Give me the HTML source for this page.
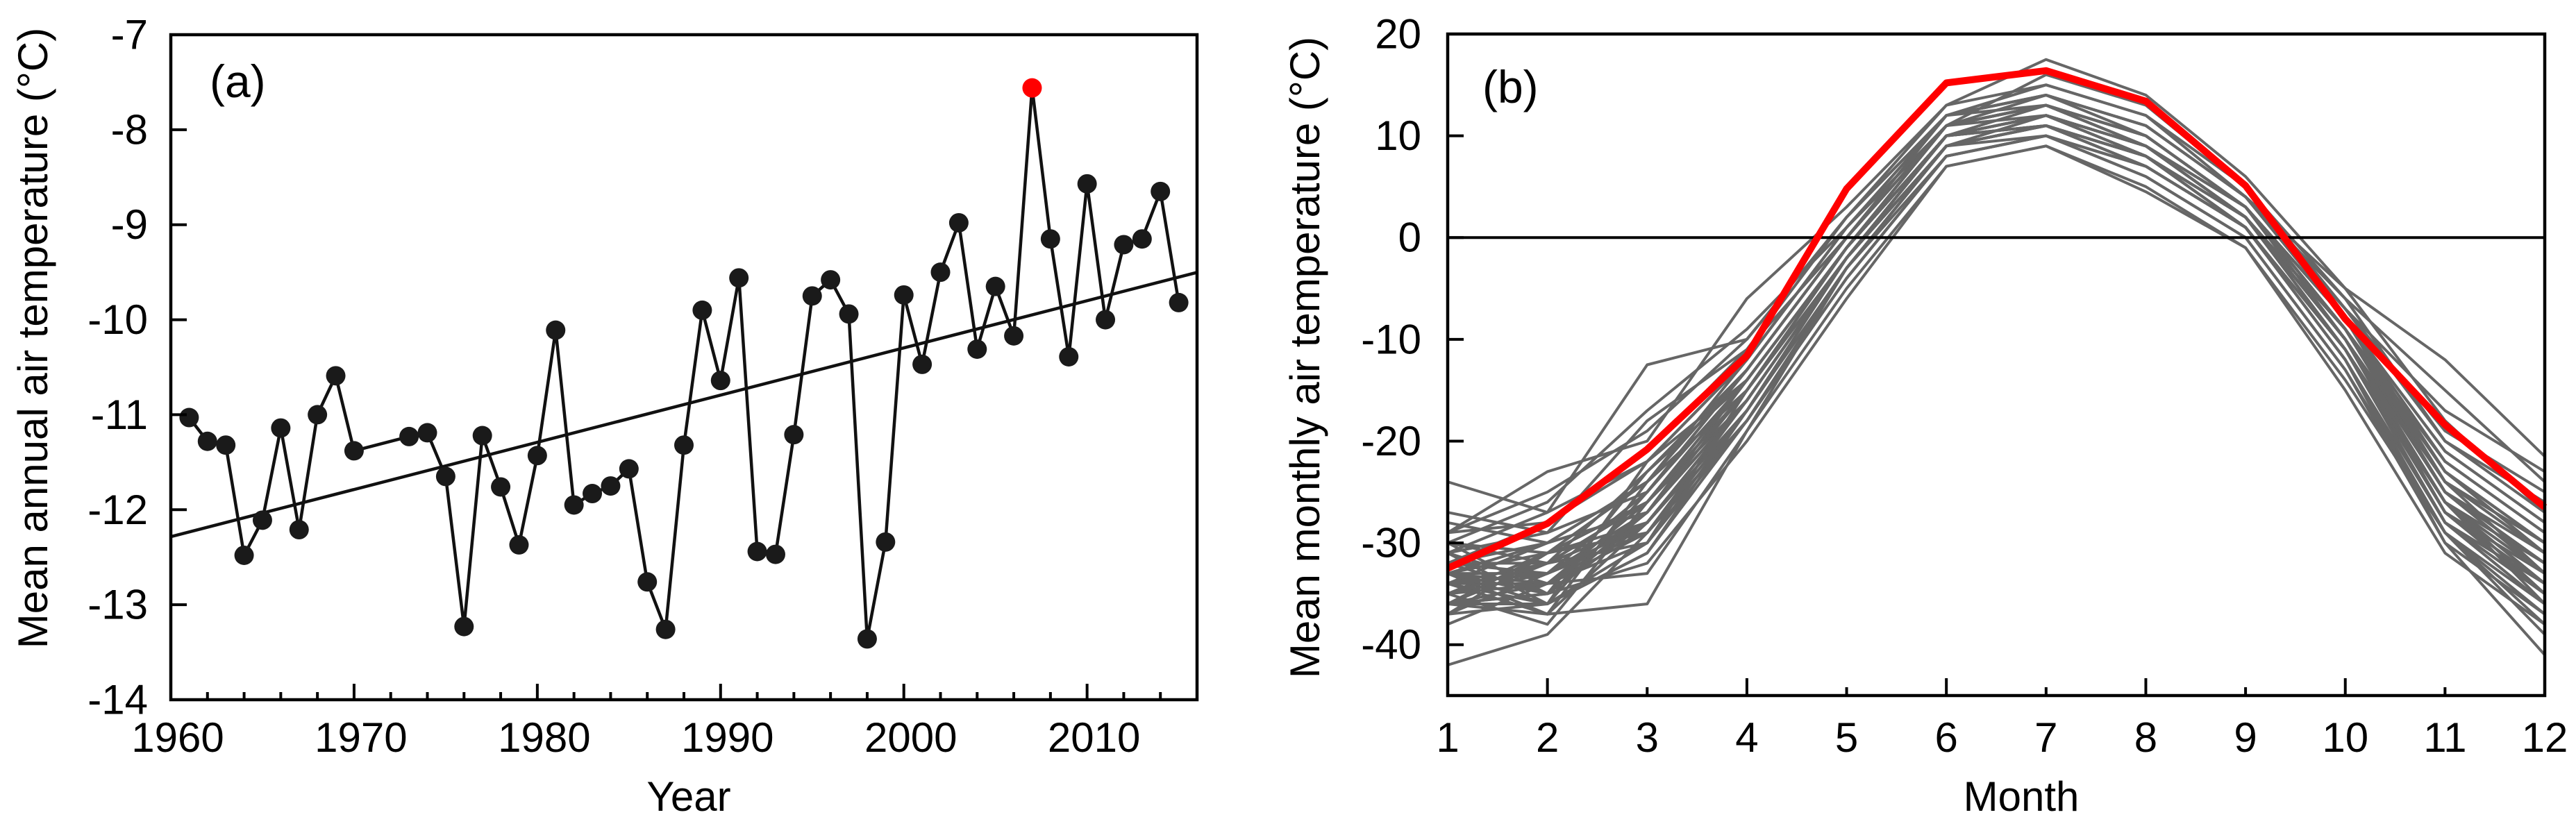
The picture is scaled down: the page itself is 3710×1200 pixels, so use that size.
<!DOCTYPE html>
<html><head><meta charset="utf-8"><style>
html,body{margin:0;padding:0;background:#fff;}
svg{display:block;font-family:"Liberation Sans",Arial,sans-serif;}
</style></head><body>
<svg id="fig" width="3710" height="1200" viewBox="0 0 3710 1200" xmlns="http://www.w3.org/2000/svg">
<rect x="0" y="0" width="3710" height="1200" fill="#fff"/>
<g id="pa"></g>
<g id="pb"></g>
</svg>
<script>
// ---- Panel (a) data ----
const years = [1961,1962,1963,1964,1965,1966,1967,1968,1969,1970,1973,1974,1975,1976,1977,1978,1979,1980,1981,1982,1983,1984,1985,1986,1987,1988,1989,1990,1991,1992,1993,1994,1995,1996,1997,1998,1999,2000,2001,2002,2003,2004,2005,2006,2007,2008,2009,2010,2011,2012,2013,2014,2015];
const annualTemp = [-11.03,-11.28,-11.32,-12.48,-12.11,-11.14,-12.21,-11.00,-10.59,-11.38,-11.23,-11.19,-11.65,-13.23,-11.22,-11.76,-12.37,-11.43,-10.11,-11.95,-11.83,-11.75,-11.57,-12.76,-13.26,-11.32,-9.90,-10.64,-9.56,-12.44,-12.47,-11.21,-9.75,-9.58,-9.94,-13.36,-12.34,-9.74,-10.47,-9.50,-8.98,-10.31,-9.65,-10.17,-7.56,-9.15,-10.39,-8.57,-10.00,-9.21,-9.15,-8.65,-9.82];
const highlightYear = [2007];
const yTicksA = [-7,-8,-9,-10,-11,-12,-13,-14];
const xTicksA = [1960,1970,1980,1990,2000,2010];

// ---- Panel (b) data ----
const months = [1,2,3,4,5,6,7,8,9,10,11,12];
const highlightMonthly = [-32.5,-28.1,-20.8,-11.6,4.8,15.2,16.4,13.4,5.1,-8.0,-18.4,-26.5];
const monthlyYears = [
[-24,-27,-12.5,-10,2,12,14,11,4,-5,-12,-21.5],
[-42,-39,-29,-18,-4,8,10,6,0,-13,-30,-41],
[-29,-23,-20,-6,3,13,15,12,5,-6,-15,-24],
[-36,-37,-36,-19,-5,7,9,5,-1,-15,-31,-38],
[-30,-26,-17,-9,1,11,13,10,3,-8,-21,-28],
[-35,-33,-27,-16,-2,9,11,8,2,-10,-27,-35],
[-33,-36,-22,-14,-1,10,12,9,2,-9,-23,-30],
[-31,-29,-25,-13,0,12,14,11,4,-7,-19,-25],
[-37,-31,-28,-17,-3,9,10,7,1,-12,-28,-36],
[-34,-34,-30,-15,-2,10,12,8,2,-10,-25,-33],
[-28,-30,-24,-12,1,11,13,10,3,-8,-22,-29],
[-36,-35,-32,-20,-6,7,9,4.5,-1,-14,-29,-39],
[-32,-28,-21,-11,2,13,17.5,14,6,-5,-18,-27],
[-35,-38,-26,-16,-2,10,11,8,1,-11,-26,-34],
[-30,-32,-23,-13,0,11,14,10,3,-9,-24,-31],
[-33,-30,-27,-15,-1,10,12,9,2,-10,-26,-32],
[-37,-33,-29,-18,-3,8,10,7,1,-12,-30,-37],
[-29,-25,-19,-10,2,12,15,12,4,-6,-20,-26],
[-34,-36,-31,-17,-2,9,11,8,2,-11,-27,-35],
[-31,-27,-22,-12,1,12,13,10,3,-8,-21,-28],
[-35,-31,-26,-14,-1,10,12,9,2,-9,-25,-33],
[-38,-34,-28,-16,-2,9,11,7,1,-11,-28,-36],
[-27,-29,-18,-11,0,11,16,13,5,-7,-17,-23],
[-33,-37,-24,-15,-1,10,12,9,3,-10,-24,-30],
[-36,-32,-30,-18,-4,8,10,6,0,-13,-29,-37],
[-32,-33,-25,-13,0,11,13,10,3,-8,-23,-31],
[-34,-30,-27,-16,-2,10,12,8,2,-10,-26,-34],
[-30,-35,-23,-14,-1,11,13,9,3,-9,-22,-29],
[-36,-34,-33,-19,-3,9,11,8,1,-11,-27,-33],
[-33,-31,-26,-15,-1,10,12,9,2,-9,-25,-32],
[-34,-32,-28,-16,-2,10,12,9,2,-10,-26,-33],
[-32,-35,-27,-14,-1,11,13,9,3,-9,-25,-32],
[-35,-33,-29,-17,-3,9,11,8,2,-11,-28,-35],
[-31,-34,-26,-15,-1,10,13,10,3,-9,-24,-31],
[-36,-36,-30,-17,-3,9,11,7,1,-12,-29,-36],
[-33,-33,-25,-14,-1,11,12,9,2,-10,-25,-31],
[-34,-37,-28,-16,-2,10,12,8,2,-10,-27,-34],
[-30,-31,-24,-13,0,12,14,11,4,-8,-23,-30],
[-35,-34,-27,-15,-2,10,11,8,2,-11,-26,-35],
[-32,-32,-26,-14,-1,11,13,9,3,-9,-24,-33],
[-36,-31,-29,-17,-2,9,12,8,1,-11,-28,-34],
[-33,-35,-27,-15,-1,10,12,9,2,-10,-25,-32],
[-37,-36,-31,-18,-4,8,10,7,1,-12,-29,-38],
[-29,-28,-22,-12,1,12,14,11,4,-7,-20,-27],
[-34,-33,-28,-16,-2,10,11,8,2,-10,-26,-33],
[-31,-36,-25,-14,-1,11,13,10,3,-9,-23,-30],
[-35,-32,-26,-15,-2,10,12,9,2,-10,-27,-35],
[-33,-34,-29,-16,-2,9,11,8,1,-11,-26,-36],
[-32,-30,-24,-13,0,11,13,10,3,-8,-24,-30],
[-36,-35,-28,-17,-3,9,11,7,1,-11,-28,-35]
];
const yTicksB = [20,10,0,-10,-20,-30,-40];

const NS = "http://www.w3.org/2000/svg";
function mk(parent, tag, attrs, text){
  const e = document.createElementNS(NS, tag);
  for (const k in attrs) e.setAttribute(k, attrs[k]);
  if (text !== undefined) e.textContent = text;
  parent.appendChild(e);
  return e;
}

// ---------- Panel A ----------
const A = {l:246, r:1724, t:50, b:1008, x0:1960, x1:2016, y0:-14, y1:-7};
const xa = v => A.l + (v - A.x0) / (A.x1 - A.x0) * (A.r - A.l);
const ya = v => A.b - (v - A.y0) / (A.y1 - A.y0) * (A.b - A.t);
const pa = document.getElementById('pa');

const n = years.length;
const mx = years.reduce((s,v)=>s+v,0)/n, my = annualTemp.reduce((s,v)=>s+v,0)/n;
let sxy=0, sxx=0;
for (let i=0;i<n;i++){ sxy += (years[i]-mx)*(annualTemp[i]-my); sxx += (years[i]-mx)**2; }
const slope = sxy/sxx, icpt = my - slope*mx;
const trend = mk(pa,'line',{x1:xa(A.x0),y1:ya(icpt+slope*A.x0),x2:xa(A.x1),y2:ya(icpt+slope*A.x1),stroke:'#111','stroke-width':4.5});



let d = '';
for (let i=0;i<n;i++){
  d += (i===0 ? 'M':'L') + xa(years[i]).toFixed(1) + ',' + ya(annualTemp[i]).toFixed(1);
}
const sl = mk(pa,'path',{d:d,fill:'none',stroke:'#111','stroke-width':4.5,'stroke-linejoin':'round'});


for (let i=0;i<n;i++){
  const hot = highlightYear.includes(years[i]);
  const c = mk(pa,'circle',{cx:xa(years[i]),cy:ya(annualTemp[i]),r:14,fill:hot?'#ff0000':'#1a1a1a'});
  
  
}
const fa = mk(pa,'rect',{x:A.l,y:A.t,width:A.r-A.l,height:A.b-A.t,fill:'none',stroke:'#000','stroke-width':4.5});


yTicksA.forEach(v=>{
  mk(pa,'line',{x1:A.l,x2:A.l+23,y1:ya(v),y2:ya(v),stroke:'#000','stroke-width':4});
  const t = mk(pa,'text',{x:213,y:ya(v),'text-anchor':'end','dominant-baseline':'central','font-size':60},String(v));
  
  
});
for (let yr=1962; yr<2016; yr+=2){
  const major = yr % 10 === 0;
  mk(pa,'line',{x1:xa(yr),x2:xa(yr),y1:A.b,y2:A.b-(major?23:11),stroke:'#000','stroke-width':4});
}
xTicksA.forEach(v=>{
  const t = mk(pa,'text',{x:xa(v)+10,y:1083,'text-anchor':'middle','font-size':60},String(v));
  
  
});
let t;
t = mk(pa,'text',{x:992,y:1168,'text-anchor':'middle','font-size':60},'Year');


t = mk(pa,'text',{x:0,y:0,transform:'translate(68,487) rotate(-90)','text-anchor':'middle','font-size':60},'Mean annual air temperature (°C)');


t = mk(pa,'text',{x:302,y:140,'font-size':66},'(a)');



// ---------- Panel B ----------
const B = {l:2085, r:3665, t:49, b:1002, x0:1, x1:12, y0:-45, y1:20};
const xb = v => B.l + (v - B.x0) / (B.x1 - B.x0) * (B.r - B.l);
const yb = v => B.b - (v - B.y0) / (B.y1 - B.y0) * (B.b - B.t);
const pb = document.getElementById('pb');
const lineD = arr => arr.map((v,i)=>(i?'L':'M')+xb(months[i]).toFixed(1)+','+yb(v).toFixed(1)).join('');
monthlyYears.forEach((row,i)=>{
  const p = mk(pb,'path',{d:lineD(row),fill:'none',stroke:'#666','stroke-width':4,'stroke-linejoin':'round'});
  
  
});
const zl = mk(pb,'line',{x1:B.l,x2:B.r,y1:yb(0),y2:yb(0),stroke:'#000','stroke-width':4});


const rl = mk(pb,'path',{d:lineD(highlightMonthly),fill:'none',stroke:'#ff0000','stroke-width':10,'stroke-linejoin':'round'});


const fb = mk(pb,'rect',{x:B.l,y:B.t,width:B.r-B.l,height:B.b-B.t,fill:'none',stroke:'#000','stroke-width':4.5});


yTicksB.forEach(v=>{
  mk(pb,'line',{x1:B.l,x2:B.l+23,y1:yb(v),y2:yb(v),stroke:'#000','stroke-width':4});
  const tt = mk(pb,'text',{x:2047,y:yb(v),'text-anchor':'end','dominant-baseline':'central','font-size':60},String(v));
  
  
});
months.forEach(m=>{
  if (m>1 && m<12) mk(pb,'line',{x1:xb(m),x2:xb(m),y1:B.b,y2:B.b-(m%2===0?25:12),stroke:'#000','stroke-width':4});
  const tt = mk(pb,'text',{x:xb(m),y:1083,'text-anchor':'middle','font-size':60},String(m));
  
  
});
t = mk(pb,'text',{x:2911,y:1168,'text-anchor':'middle','font-size':60},'Month');


t = mk(pb,'text',{x:0,y:0,transform:'translate(1900,515) rotate(-90)','text-anchor':'middle','font-size':60},'Mean monthly air temperature (°C)');


t = mk(pb,'text',{x:2135,y:148,'font-size':66},'(b)');


</script>
</body></html>
